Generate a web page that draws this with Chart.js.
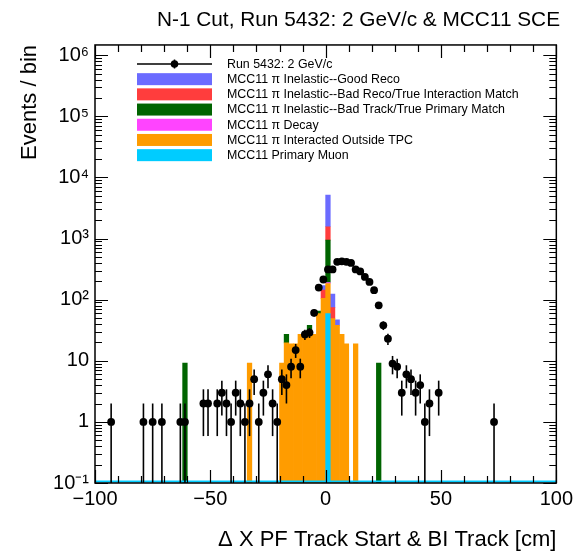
<!DOCTYPE html>
<html><head><meta charset="utf-8">
<script src="https://cdn.jsdelivr.net/npm/chart.js@4"></script>
<style>html,body{margin:0;padding:0;background:#fff}canvas{display:block}</style>
</head><body>
<div style="width:577px;height:555px"><canvas id="c" width="577" height="555"></canvas></div>
<script>
// ---- data (bin centres in cm, 2 cm bins) ----
const dataX = [-93,-79,-75,-71,-63,-61,-53,-51,-47,-45,-43,-41,-39,-37,-35,-33,-31,-29,-27,-25,-23,-21,-19,-17,-15,-13,-11,-9,-7,-5,-3,-1,1,3,5,7,9,11,13,15,17,19,21,23,25,27,29,31,33,35,37,39,41,43,45,49,73];
const dataY = [1,1,1,1,1,1,2,2,2,3,2,1,3,2,1,2,5,1,3,6,2,1,5,4,8,15,8,27,29,61,158,214,313,313,417,425,417,400,313,290,236,195,143,81,38,23,9,8,3,6,5,3,4,1,2,3,1];

const muonX = [1];
const muonY = [59];
const outsideX = [-33,-19,-17,-15,-13,-11,-9,-7,-5,-3,-1,1,3,5,7,9,13];
const outsideY = [9.2,9.2,19.6,19,19,27,27,27,27,59,105,125,49,38,27,19,19];
const decayX = [1];
const decayY = [7];
const badTrackX = [-61,-17,-7,-3,1,23];
const badTrackY = [9.2,7.5,11,6,750,9.2];
const badRecoX = [-1,1,3];
const badRecoY = [38,620,25];
const goodRecoX = [-1,1,3,5];
const goodRecoY = [27,3570,49,9];

const xTicks = [-100,-50,0,50,100];
const yTicks = [0.1,1,10,100,1000,10000,100000,1000000];
const yTickLabels = ['10\u207B\u00B9','1','10','10\u00B2','10\u00B3','10\u2074','10\u2075','10\u2076'];

const legendLabels = [
  'Run 5432: 2 GeV/c',
  'MCC11 \u03C0 Inelastic--Good Reco',
  'MCC11 \u03C0 Inelastic--Bad Reco/True Interaction Match',
  'MCC11 \u03C0 Inelastic--Bad Track/True Primary Match',
  'MCC11 \u03C0 Decay',
  'MCC11 \u03C0 Interacted Outside TPC',
  'MCC11 Primary Muon'
];
const C = {good:'#6b6bff', badReco:'#ff3d3d', badTrack:'#006400', decay:'#ff44ff', outside:'#ff9c00', muon:'#00ccff'};

const pts = (xs, ys) => xs.map((x, i) => ({x: x, y: ys[i]}));
const FONT = '"Liberation Sans", Arial, Helvetica, sans-serif';

function barDs(label, xs, ys, color) {
  return {type:'bar', label, data: pts(xs, ys), backgroundColor: color, borderWidth: 0,
          barPercentage: 1, categoryPercentage: 1, stack: 'mc'};
}

const legendColors = [null, C.good, C.badReco, C.badTrack, C.decay, C.outside, C.muon];

const errorBars = {
  id: 'errorBars',
  afterDatasetsDraw(chart) {
    const {ctx, chartArea: a} = chart;
    const xs = chart.scales.x, ys = chart.scales.y;
    ctx.save();
    ctx.strokeStyle = C.muon; ctx.lineWidth = 2;
    ctx.beginPath(); ctx.moveTo(a.left, a.bottom - 1.5); ctx.lineTo(a.right, a.bottom - 1.5); ctx.stroke();
    ctx.strokeStyle = '#000'; ctx.lineWidth = 1.6;
    dataX.forEach((x, i) => {
      const v = dataY[i], e = Math.sqrt(v);
      const px = xs.getPixelForValue(x);
      const top = Math.max(a.top, ys.getPixelForValue(v + e));
      const lo = v - e;
      const bot = lo > ys.min ? ys.getPixelForValue(lo) : a.bottom;
      ctx.beginPath(); ctx.moveTo(px, top); ctx.lineTo(px, bot); ctx.stroke();
    });
    ctx.restore();
  }
};

const frameTicks = {
  id: 'frameTicks',
  afterDraw(chart) {
    const {ctx, chartArea: a} = chart;
    const xs = chart.scales.x, ys = chart.scales.y;
    ctx.save();
    ctx.strokeStyle = '#000'; ctx.lineWidth = 1.2;
    ctx.beginPath();
    for (let v = xs.min; v <= xs.max + 1e-9; v += 10) {
      const p = Math.round(xs.getPixelForValue(v)) + 0.5;
      const len = xTicks.includes(v) ? 13 : 7;
      ctx.moveTo(p, a.bottom); ctx.lineTo(p, a.bottom - len);
      ctx.moveTo(p, a.top); ctx.lineTo(p, a.top + len);
    }
    for (let d = -1; d <= 6; d++) {
      for (let k = 1; k <= 9; k++) {
        const v = k * Math.pow(10, d);
        if (v < ys.min * 0.999 || v > ys.max) continue;
        const p = Math.round(ys.getPixelForValue(v)) + 0.5;
        const len = k === 1 ? 13 : 7;
        ctx.moveTo(a.left, p); ctx.lineTo(a.left + len, p);
        ctx.moveTo(a.right, p); ctx.lineTo(a.right - len, p);
      }
    }
    ctx.stroke();
    ctx.lineWidth = 1.5;
    ctx.strokeRect(a.left, a.top, a.right - a.left, a.bottom - a.top);

    const lx = a.left + 42, sw = 75, tx = a.left + 132, y0 = a.top + 19, dy = 15.2;
    ctx.font = '12.4px ' + FONT; ctx.textBaseline = 'middle'; ctx.textAlign = 'left';
    legendLabels.forEach((t, i) => {
      const y = y0 + i * dy;
      if (i === 0) {
        ctx.strokeStyle = '#000'; ctx.lineWidth = 1.5;
        ctx.beginPath(); ctx.moveTo(lx, y); ctx.lineTo(lx + sw, y);
        ctx.moveTo(lx + sw / 2, y - 4.5); ctx.lineTo(lx + sw / 2, y + 4.5); ctx.stroke();
        ctx.fillStyle = '#000'; ctx.beginPath(); ctx.arc(lx + sw / 2, y, 3.8, 0, 2 * Math.PI); ctx.fill();
      } else {
        ctx.fillStyle = legendColors[i];
        ctx.fillRect(lx, y - 6, sw, 12);
      }
      ctx.fillStyle = '#000';
      ctx.fillText(t, tx, y + 0.5);
    });
    ctx.restore();
  }
};

new Chart(document.getElementById('c'), {
  data: {
    datasets: [
      {type:'scatter', label: legendLabels[0], data: pts(dataX, dataY), pointRadius: 3.9,
       pointBackgroundColor:'#000', pointBorderWidth: 0, showLine: false},
      barDs(legendLabels[6], muonX, muonY, C.muon),
      barDs(legendLabels[5], outsideX, outsideY, C.outside),
      barDs(legendLabels[4], decayX, decayY, C.decay),
      barDs(legendLabels[3], badTrackX, badTrackY, C.badTrack),
      barDs(legendLabels[2], badRecoX, badRecoY, C.badReco),
      barDs(legendLabels[1], goodRecoX, goodRecoY, C.good)
    ]
  },
  options: {
    responsive: false, animation: false, devicePixelRatio: 1,
    layout: {padding: {left: 0, right: 17, top: 0, bottom: 0}},
    plugins: {
      legend: {display: false}, tooltip: {enabled: false},
      title: {display: true, text: 'N-1 Cut, Run 5432: 2 GeV/c & MCC11 SCE', align: 'end',
              color: '#000', font: {family: FONT, size: 20.8, weight: 'normal'},
              padding: {top: 7.5, bottom: 12.5}}
    },
    scales: {
      x: {type: 'linear', min: -100, max: 100, offset: false, stacked: true,
          grid: {display: false, drawTicks: false}, border: {display: false},
          afterBuildTicks: s => { s.ticks = xTicks.map(v => ({value: v})); },
          ticks: {color: '#000', padding: 4, maxRotation: 0, font: {family: FONT, size: 20},
                  callback: v => v < 0 ? '\u2212' + Math.abs(v) : String(v)},
          title: {display: true, text: '\u0394 X PF Track Start & BI Track [cm]', align: 'end', color: '#000',
                  font: {family: FONT, size: 22}, padding: {top: 0, bottom: 2}},
          afterFit: s => { s.height = 72; }},
      y: {type: 'logarithmic', min: 0.1, max: 1.475e6, stacked: true,
          grid: {display: false, drawTicks: false}, border: {display: false},
          afterBuildTicks: s => { s.ticks = yTicks.map(v => ({value: v})); },
          ticks: {color: '#000', padding: 6, font: {family: FONT, size: 20},
                  callback: v => { const i = yTicks.findIndex(t => Math.abs(t - v) < t * 1e-6); return i >= 0 ? yTickLabels[i] : ''; }},
          title: {display: true, text: 'Events / bin', align: 'end', color: '#000',
                  font: {family: FONT, size: 22}, padding: {top: 17, bottom: 0}},
          afterFit: s => { s.width = 95; }}
    }
  },
  plugins: [errorBars, frameTicks]
});
</script>
</body></html>
